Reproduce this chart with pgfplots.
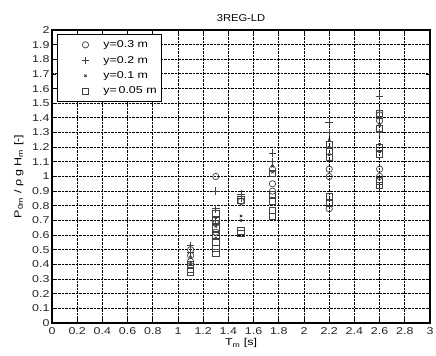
\documentclass[border=0pt]{standalone}
\usepackage{pgfplots}
\pgfplotsset{compat=1.18}
\usepackage{fontspec}
\setmainfont[FakeStretch=1.25]{Liberation Sans}
\newfontfamily\titlefont[FakeStretch=1.12]{Liberation Sans}
\pgfplotsset{
  mymarks/.style={only marks,
    legend image code/.code={\path[draw=none,fill=none] (-25bp,0bp) -- (16bp,0bp);\draw[only marks,##1] plot coordinates {(0bp,0bp)};}},
}
\begin{document}
\begin{tikzpicture}
\path[use as bounding box] (-52bp,-33bp) rectangle (384bp,323bp);
\begin{axis}[
  at={(0,0)}, anchor=south west,
  width=378bp, height=293bp, scale only axis,
  xmin=0, xmax=3, ymin=0, ymax=2,
  xtick distance=0.2, ytick distance=0.1,
  grid=major,
  major grid style={densely dotted, black, line width=0.9pt},
  axis line style={black, line width=1.1pt},
  tick style={black, line width=0.8pt},
  major tick length=4bp,
  tick align=inside,
  /pgf/number format/assume math mode=true,
  tick label style={font=\fontsize{10}{10}\selectfont, black!85},
  xticklabel style={yshift=-1bp},
  yticklabel style={xshift=1bp},
  title={\titlefont 3REG-LD},
  title style={font=\fontsize{10}{10}\selectfont, yshift=-1bp},
  xlabel={T\textsubscript{m} [s]},
  xlabel style={font=\fontsize{10}{10}\selectfont, yshift=3bp},
  ylabel={P\textsubscript{0m} / ρ g H\textsubscript{m} [-]},
  ylabel style={font=\fontsize{10}{10}\selectfont, yshift=2bp},
  legend style={at={(rel axis cs:0.013,0.986)}, anchor=north west,
    draw=black, line width=1.1pt, fill=white,
    font=\fontsize{10}{10}\selectfont, row sep=3bp,
    inner xsep=3bp, inner ysep=4bp},
  legend cell align=left,
]
\addplot[mymarks, mark=o, mark size=3.2pt, black!75, line width=0.7pt] coordinates {
 (1.1,0.50) (1.1,0.46) (1.1,0.42)
 (1.3,1.00) (1.3,0.68) (1.3,0.62)
 (1.5,0.83)
 (1.75,1.05) (1.75,0.95) (1.75,0.90)
 (2.2,1.05) (2.2,1.00) (2.2,0.78)
 (2.6,1.42) (2.6,1.38) (2.6,1.05) (2.6,1.00)
};
\addlegendentry{y=0.3 m}
\addplot[mymarks, mark=+, mark size=3.8pt, black!75, line width=0.7pt] coordinates {
 (1.1,0.53) (1.1,0.48)
 (1.3,0.90) (1.3,0.78) (1.3,0.70)
 (1.5,0.88) (1.5,0.85)
 (1.75,1.16) (1.75,1.10)
 (2.2,1.37) (2.2,1.30)
 (2.6,1.55) (2.6,1.45) (2.6,1.40) (2.6,1.30)
};
\addlegendentry{y=0.2 m}
\addplot[mymarks, mark=x, mark size=1.6pt, black!80, line width=0.8pt] coordinates {
 (1.1,0.45) (1.1,0.41)
 (1.3,0.72) (1.3,0.66) (1.3,0.58)
 (1.5,0.73) (1.5,0.70)
 (1.75,1.07) (1.75,1.03)
 (2.2,1.25) (2.2,1.20) (2.2,1.15)
 (2.6,1.35) (2.6,1.22) (2.6,1.17)
};
\addlegendentry{y=0.1 m}
\addplot[mymarks, mark=square, mark size=3.2pt, black!75, line width=0.7pt] coordinates {
 (1.1,0.40) (1.1,0.37) (1.1,0.35)
 (1.3,0.75) (1.3,0.70) (1.3,0.65) (1.3,0.60) (1.3,0.55) (1.3,0.51) (1.3,0.48)
 (1.5,0.84) (1.5,0.63) (1.5,0.61)
 (1.75,1.02) (1.75,0.88) (1.75,0.83) (1.75,0.77) (1.75,0.73)
 (2.2,1.22) (2.2,1.17) (2.2,1.13) (2.2,0.86) (2.2,0.82)
 (2.6,1.43) (2.6,1.33) (2.6,1.20) (2.6,1.15) (2.6,0.97) (2.6,0.94)
};
\addlegendentry{y=\,0.05 m}
\end{axis}
\end{tikzpicture}
\end{document}
